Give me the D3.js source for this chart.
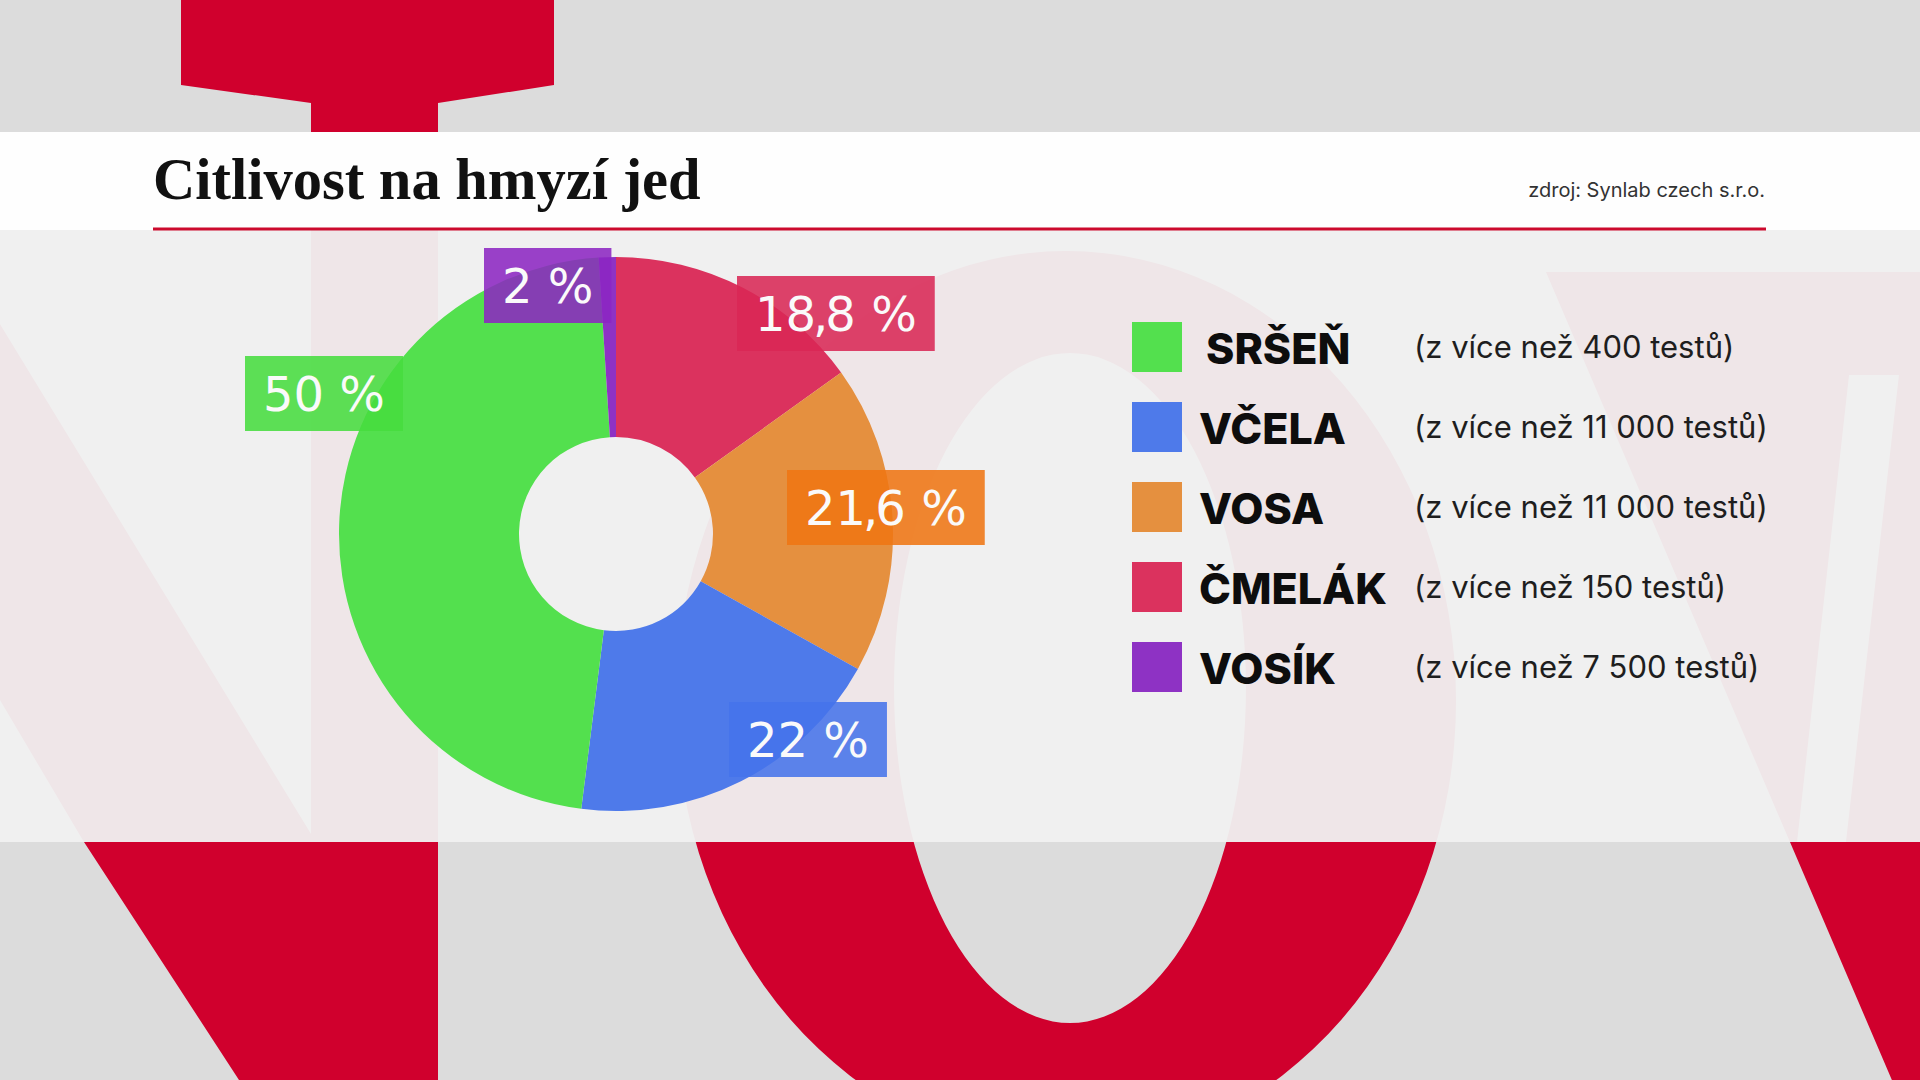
<!DOCTYPE html>
<html><head><meta charset="utf-8">
<script src="https://cdn.jsdelivr.net/npm/d3@7"></script>
<style>html,body{margin:0;padding:0;background:#dcdcdc;overflow:hidden}</style>
</head><body><svg id="c" width="1920" height="1080"></svg>
<script>
// ---------- data ----------
const title = "Citlivost na hmyzí jed";
const source = "zdroj: Synlab czech s.r.o.";
const categories = ["SRŠEŇ", "VČELA", "VOSA", "ČMELÁK", "VOSÍK"];          // legend order
const percentLabels = ["50 %", "22 %", "21,6 %", "18,8 %", "2 %"];          // labels shown
const sliceShares = [47.0, 18.9, 18.0, 15.1, 1.0];                           // slice sizes as drawn (share of ring, %)
const testCounts = ["(z více než 400 testů)", "(z více než 11 000 testů)", "(z více než 11 000 testů)", "(z více než 150 testů)", "(z více než 7 500 testů)"];
const sliceOrder = ["ČMELÁK", "VOSA", "VČELA", "SRŠEŇ", "VOSÍK"];           // clockwise from 12 o'clock

// ---------- styles / layout ----------
const sliceColor = {"SRŠEŇ":"#53e04e","VČELA":"#4e7aea","VOSA":"#e5903f","ČMELÁK":"#db325e","VOSÍK":"#8e32c4"};
const boxColor   = {"SRŠEŇ":"#46dc3e","VČELA":"#4573ea","VOSA":"#ef7512","ČMELÁK":"#d92755","VOSÍK":"#8c26c2"};
const labelAt    = {"ČMELÁK":[121,-258],"VOSA":[171,-64],"VČELA":[113,168],"SRŠEŇ":[-371,-178],"VOSÍK":[-132,-286]};
const nameIndent = {"SRŠEŇ":7};
const W = 1920, H = 1080;
const cx = 616, cy = 534, R = 277, r0 = 97;
const RED = "#d0002d";

const svg = d3.select("#c");

// ---------- background letters ----------
const bg = svg.append("g");
bg.append("rect").attr("width", W).attr("height", H).attr("fill", "#dcdcdc");
const line = d3.line();
// N stem with top flare
bg.append("path").attr("fill", RED)
  .attr("d", line([[181,-5],[554,-5],[554,85],[438,103],[438,1100],[311,1100],[311,103],[181,85]]) + "Z");
// N diagonal
bg.append("path").attr("fill", RED)
  .attr("d", line([[-60,226],[311,834],[311,1100],[252,1100],[239,1080],[84,842],[0,700],[-60,600]]) + "Z");
// O ring
function ell(x, y, rx, ry) {
  return `M${x-rx},${y}A${rx},${ry} 0 1,0 ${x+rx},${y}A${rx},${ry} 0 1,0 ${x-rx},${y}Z`;
}
bg.append("path").attr("fill", RED).attr("fill-rule", "evenodd")
  .attr("d", ell(1066, 701, 390, 450) + ell(1070, 688, 176, 335));
// V
bg.append("path").attr("fill", RED).attr("fill-rule", "evenodd")
  .attr("d", line([[1546,272],[1990,272],[1990,1120],[1909,1120]]) + "Z" +
             line([[1849,375],[1899,375],[1846,842],[1797,842]]) + "Z");

// panel overlay
svg.append("rect").attr("x", 0).attr("y", 230).attr("width", W).attr("height", 612)
  .attr("fill", "#f0f0f0").attr("fill-opacity", 0.955);
// title band
svg.append("rect").attr("x", 0).attr("y", 132).attr("width", W).attr("height", 98).attr("fill", "#fefefe");
svg.append("rect").attr("x", 153).attr("y", 227.5).attr("width", 1613).attr("height", 3).attr("fill", "#cc0a2d");

svg.append("text").attr("x", 153).attr("y", 199)
  .attr("font-family", "'Liberation Serif', serif").attr("font-weight", 700).attr("font-size", 58.5)
  .attr("fill", "#111").text(title);
svg.append("text").attr("x", 1765).attr("y", 197).attr("text-anchor", "end")
  .attr("font-family", "Inter, sans-serif").attr("font-size", 20).attr("fill", "#333").text(source);

// ---------- donut ----------
const sliceData = sliceOrder.map(k => ({key: k, share: sliceShares[categories.indexOf(k)]}));
const pie = d3.pie().sort(null).value(d => d.share).startAngle(0).endAngle(2 * Math.PI);
const arc = d3.arc().innerRadius(r0).outerRadius(R);
const gD = svg.append("g").attr("transform", `translate(${cx},${cy})`);
gD.selectAll("path").data(pie(sliceData)).join("path")
  .attr("d", arc).attr("fill", d => sliceColor[d.data.key]);

// labels
const gL = svg.append("g").attr("transform", `translate(${cx},${cy})`);
sliceOrder.forEach(k => {
  const i = categories.indexOf(k);
  const [lx, ly] = labelAt[k];
  const g = gL.append("g").attr("transform", `translate(${lx},${ly})`);
  const rect = g.append("rect").attr("height", 75).attr("fill", boxColor[k]).attr("fill-opacity", 0.87);
  const t = g.append("text").attr("x", 18).attr("y", 55)
    .attr("font-family", "'DejaVu Sans', sans-serif").attr("font-size", 48)
    .attr("fill", "#fafafa");
  const parts = percentLabels[i].split(",");
  if (parts.length === 2) {
    t.append("tspan").text(parts[0]);
    t.append("tspan").attr("dx", -3).text(",");
    t.append("tspan").attr("dx", -3).text(parts[1]);
  } else {
    t.text(percentLabels[i]);
  }
  const bb = t.node().getBBox();
  rect.attr("width", bb.x + bb.width - 18 + 36);
});

// ---------- legend ----------
const y0 = 322, step = 80;
const gLeg = svg.append("g");
categories.forEach((k, i) => {
  const y = y0 + i * step;
  gLeg.append("rect").attr("x", 1132).attr("y", y).attr("width", 50).attr("height", 50).attr("fill", sliceColor[k]);
  gLeg.append("text").attr("x", 1199 + (nameIndent[k] || 0)).attr("y", y + 42)
    .attr("font-family", "Inter, sans-serif").attr("font-weight", 800).attr("font-size", 43)
    .attr("fill", "#0d0d0d").text(k);
  gLeg.append("text").attr("x", 1414).attr("y", y + 36)
    .attr("font-family", "Inter, sans-serif").attr("font-size", 31)
    .attr("fill", "#1e1e1e").text(testCounts[i]);
});
</script>
</body></html>
